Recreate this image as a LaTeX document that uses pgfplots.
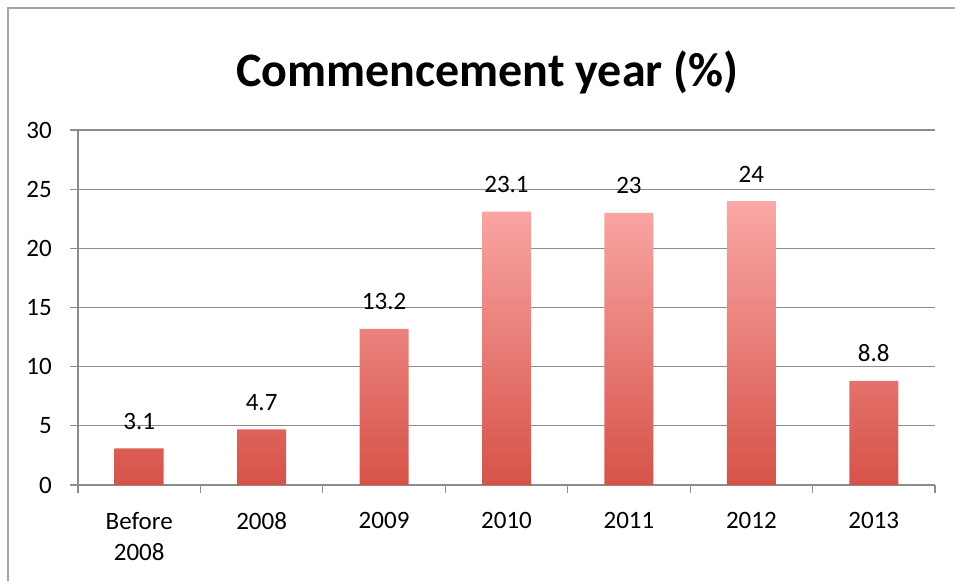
\documentclass[border=0pt]{standalone}
\usepackage{pgfplots}
\pgfplotsset{compat=1.18}
\usepackage{fontspec}
\setmainfont{Carlito}
\definecolor{gridgray}{RGB}{140,140,140}
\definecolor{framegray}{RGB}{165,165,165}
\definecolor{bartop}{RGB}{250,168,166}
\definecolor{barbot}{RGB}{214,82,72}
\begin{document}
\begin{tikzpicture}
\path[use as bounding box] (-78bp,-96bp) rectangle (877bp,485bp);
\draw[framegray, line width=2bp] (-70bp,-100bp) -- (-70bp,477bp) -- (880bp,477bp);
\node[anchor=base, font=\fontsize{48bp}{50bp}\selectfont\bfseries] at (409.5bp,398bp) {Commencement year (\%)};
\begin{axis}[
  at={(0,0)}, anchor=south west,
  scale only axis,
  width=857bp, height=355bp,
  xmin=-0.5, xmax=6.5,
  ymin=0, ymax=30,
  axis x line*=bottom,
  axis y line*=left,
  axis line style={gridgray, line width=1.2bp},
  xtick={0,1,2,3,4,5,6},
  xticklabels={{Before\\2008},2008,2009,2010,2011,2012,2013},
  major x tick style={draw=none},
  minor xtick={-0.5,0.5,1.5,2.5,3.5,4.5,5.5,6.5},
  minor tick length=8bp,
  minor x tick style={gridgray, line width=1.2bp},
  ytick={0,5,10,15,20,25,30},
  major tick length=8bp,
  tick align=outside,
  major y tick style={gridgray, line width=1.2bp},
  ymajorgrids,
  major grid style={gridgray, line width=1.2bp},
  x tick label style={font=\fontsize{25bp}{31bp}\selectfont, align=center, anchor=north, inner sep=0pt, yshift=-19bp},
  y tick label style={font=\fontsize{25bp}{30bp}\selectfont, anchor=east, inner sep=0pt, xshift=-18bp},
  /pgf/number format/assume math mode=true,
  ybar, bar width=49bp, bar shift=0pt,
  nodes near coords,
  every node near coord/.append style={font=\fontsize{25bp}{30bp}\selectfont, anchor=base, yshift=19bp},
  clip=false,
]
\addplot[draw=none, top color=bartop, bottom color=barbot] coordinates {
(0,3.1) (1,4.7) (2,13.2) (3,23.1) (4,23) (5,24) (6,8.8)
};
\end{axis}
\end{tikzpicture}
\end{document}
